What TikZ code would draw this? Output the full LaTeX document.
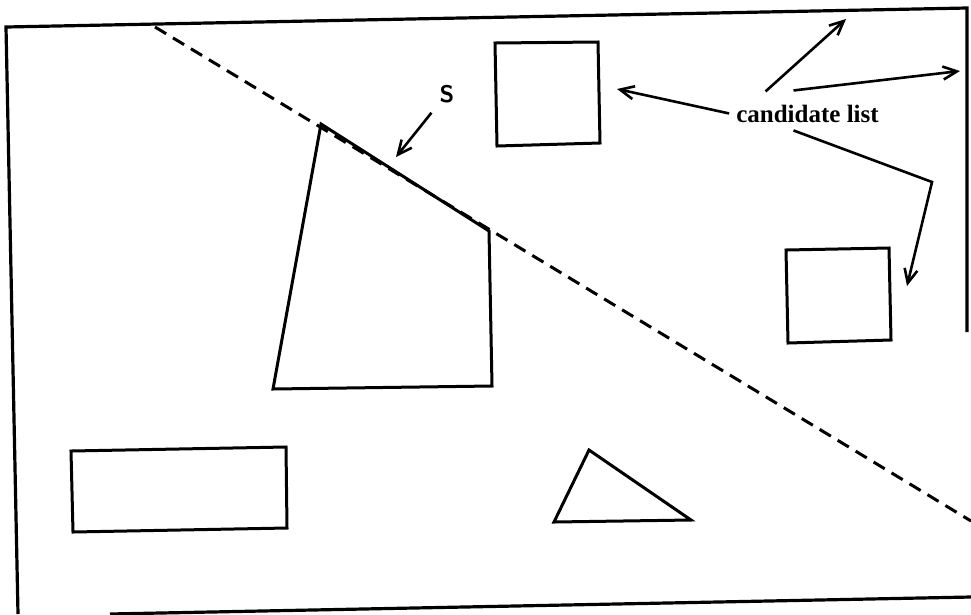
\documentclass[tikz,border=0pt]{standalone}
\usepackage{fontspec}
\newfontfamily\labelfont{Liberation Serif}
\usetikzlibrary{arrows.meta}
\begin{document}
\begin{tikzpicture}[x=1pt,y=-1pt,
  outline/.style={line width=3pt, line join=miter},
  frame/.style={line width=3.2pt},
  cut/.style={line width=3pt, dash pattern=on 13pt off 8pt},
  pointer/.style={line width=2.6pt, -{Straight Barb[length=14pt,width=13pt,line width=2.6pt]}},
  lbl/.style={inner sep=0pt, anchor=base}]
\useasboundingbox (0,0) rectangle (971,614);
% frame (scanned, slightly skewed)
\draw[frame] (967,332) -- (967,8) -- (6,27) -- (18,614);
\draw[frame] (110,614) -- (971,597);
% dashed cut line
\draw[cut] (155,27) -- (971,521);
% quadrilateral
\draw[outline] (321,124) -- (489,231) -- (492,386) -- (273,389) -- cycle;
% squares
\draw[outline] (495,43) -- (598,42) -- (600,143) -- (497,146) -- cycle;
\draw[outline] (786,250) -- (889,248) -- (891,340) -- (788,343) -- cycle;
% rectangle
\draw[outline] (71,451) -- (286,447) -- (287,528) -- (73,532) -- cycle;
% triangle
\draw[outline] (589,450) -- (691,520) -- (554,522) -- cycle;
% labels
\node[lbl] (s) at (447,102) {\fontsize{24}{28}\selectfont\sffamily\bfseries S};
\node[lbl, inner sep=4pt] (cand) at (807.5,122) {\fontsize{25}{29}\selectfont\labelfont\bfseries candidate list};
% arrow targets
\coordinate (stip) at (396,157);
\coordinate (t1) at (617,89);
\coordinate (t2) at (846,19);
\coordinate (t3) at (960,71);
\coordinate (bend) at (932,182);
\coordinate (t4) at (907,286);
% arrows
\draw[pointer] ([shift={(-8,10)}]s.south west) -- (stip);
\draw[pointer] ([xshift=-3pt]cand.west) -- (t1);
\draw[pointer] ([shift={(-42,-9)}]cand.north) -- (t2);
\draw[pointer] ([shift={(-14,-10)}]cand.north) -- (t3);
\draw[pointer, line join=miter] ([shift={(-14,4)}]cand.south) -- (bend) -- (t4);
\end{tikzpicture}
\end{document}
